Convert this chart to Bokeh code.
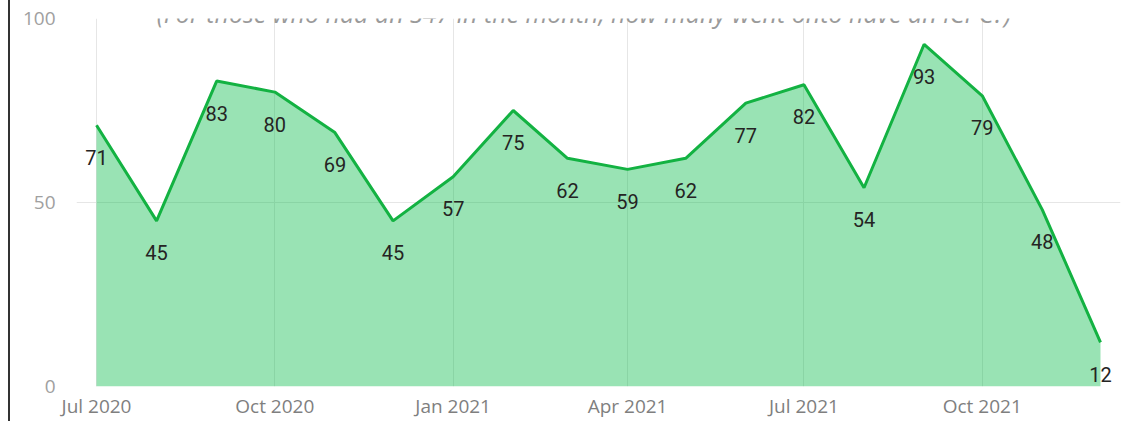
import pandas as pd
from bokeh.plotting import figure
from bokeh.models import ColumnDataSource, FixedTicker, DatetimeTickFormatter, Label, Range1d
from bokeh.core.properties import value
from bokeh.embed import file_html
from bokeh.resources import INLINE

# ---- data ----
months = ["2020-07-01", "2020-08-01", "2020-09-01", "2020-10-01", "2020-11-01", "2020-12-01",
          "2021-01-01", "2021-02-01", "2021-03-01", "2021-04-01", "2021-05-01", "2021-06-01",
          "2021-07-01", "2021-08-01", "2021-09-01", "2021-10-01", "2021-11-01", "2021-12-01"]
values = [71, 45, 83, 80, 69, 45, 57, 75, 62, 59, 62, 77, 82, 54, 93, 79, 48, 12]
tick_months = ["2020-07-01", "2020-10-01", "2021-01-01", "2021-04-01", "2021-07-01", "2021-10-01"]
y_ticks = [0, 50, 100]
subtitle = "(For those who had an S47 in the month, how many went onto have an ICPC?)"

dates = [d.to_pydatetime() for d in pd.to_datetime(months)]
src = ColumnDataSource(dict(x=dates, y=values, zero=[0] * len(values),
                            lbl=[str(v) for v in values]))

pad = pd.Timedelta(days=10.32).to_pytimedelta()
p = figure(width=1129, height=421, x_axis_type="datetime",
           x_range=Range1d(dates[0] - pad, dates[-1] + pad), y_range=Range1d(0, 100),
           output_backend="svg", toolbar_location=None,
           min_border_left=66, min_border_right=19, min_border_top=18, min_border_bottom=32)
p.styles = {"margin-left": "8px", "border-left": "2px solid #333333"}
p.outline_line_color = None
p.background_fill_color = "white"
p.border_fill_color = "white"

p.varea(x="x", y1="zero", y2="y", source=src, fill_color="#00B844", fill_alpha=0.4)
p.line("x", "y", source=src, line_color="#13B242", line_width=3)
p.text(x="x", y="y", text="lbl", source=src, text_align="center", text_baseline="alphabetic",
       y_offset=32, text_font=value("Roboto"), text_font_size="20px", text_color="#252423")

tick_ms = [t.timestamp() * 1000 for t in pd.to_datetime(tick_months)]
p.xaxis.ticker = FixedTicker(ticks=tick_ms)
fmt = "%b %Y"
p.xaxis.formatter = DatetimeTickFormatter(days=fmt, months=fmt, years=fmt, hours=fmt)
p.yaxis.ticker = FixedTicker(ticks=y_ticks)

for ax in (p.xaxis, p.yaxis):
    ax.axis_line_color = None
    ax.major_tick_line_color = None
    ax.minor_tick_line_color = None
    ax.major_tick_out = 0
    ax.major_tick_in = 0
    ax.major_label_text_font = "Open Sans"
    ax.major_label_text_font_size = "19px"
p.xaxis.major_label_text_color = "#7f7f7f"
p.yaxis.major_label_text_color = "#a0a0a0"
p.xaxis.major_label_standoff = 6
p.yaxis.major_label_standoff = 21

p.grid.grid_line_color = "#e6e6e6"
p.grid.grid_line_width = 1

title_x = (pd.Timestamp(months[0]) + pd.Timedelta(days=251.5)).timestamp() * 1000
p.add_layout(Label(x=title_x, y=101.5, text=subtitle, text_align="center",
                   text_baseline="alphabetic", text_font="Open Sans", text_font_style="italic",
                   text_font_size="25px", text_color="#9a9a9a"))

open("out.html", "w").write(file_html(p, INLINE))
